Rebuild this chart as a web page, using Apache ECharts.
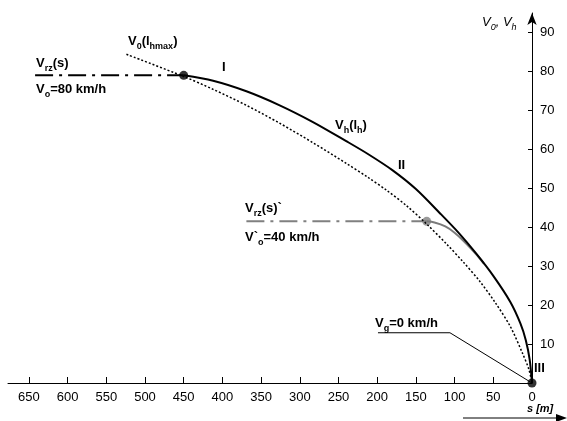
<!DOCTYPE html>
<html>
<head>
<meta charset="utf-8">
<script src="https://cdn.jsdelivr.net/npm/echarts@6/dist/echarts.min.js"></script>
<style>
  html, body { margin: 0; padding: 0; background: #fff; }
  #chart-container { width: 567px; height: 421px; }
</style>
</head>
<body>
<div id="chart-container"></div>
<script>
var dom = document.getElementById("chart-container");
var myChart = echarts.init(dom, null, { renderer: "canvas" });

// tick values
const xTicks = [0, 50, 100, 150, 200, 250, 300, 350, 400, 450, 500, 550, 600, 650];
const yTicks = [10, 20, 30, 40, 50, 60, 70, 80, 90];

// V_h(l_h) - solid curve
const vhS = [450, 412, 369, 326, 283, 240, 212, 180, 150, 119, 95, 72, 50, 28, 15, 8, 3, 0];
const vhV = [79, 77.6, 74.9, 71.3, 67, 62.1, 58.8, 54.6, 49.8, 43.6, 38.6, 33.2, 27.5, 20.8, 15.3, 11, 6, 0];

// V_0(l_hmax) - dotted curve
const v0S = [524, 450, 412, 369, 326, 283, 240, 212, 188, 162, 136, 110, 89, 67, 47, 28, 12, 4, 0];
const v0V = [84.4, 78.7, 75.4, 71.3, 66.7, 61.7, 56.4, 52.8, 49.5, 45.5, 40.8, 35.6, 31.1, 26, 20.5, 14.5, 7.5, 3.5, 0];

// grey braking curve from V`o = 40 km/h
const greyS = [136, 126, 112, 100, 88, 78, 68, 62];
const greyV = [41.5, 41.2, 40.2, 38.6, 36.4, 34.3, 32.1, 30.6];

// V_rz(s) dash-dot lines
const rzS = [642, 450];
const rzV = [79, 79];
const rz2S = [369, 136];
const rz2V = [41.5, 41.5];

// leader for V_g label
const vgS = [199, 106, 0];
const vgV = [12.9, 12.9, 0];

// points
const dotS = [450, 0];
const dotV = [79, 0];
const greyDotS = [136];
const greyDotV = [41.5];

const pair = (xs, ys) => xs.map((x, i) => [x, ys[i]]);

const FONT = "Liberation Sans, Arial, sans-serif";
const rich = {
  b: { fontSize: 13, fontWeight: "bold", fontFamily: FONT, color: "#000", lineHeight: 16, verticalAlign: "bottom" },
  s: { fontSize: 9, fontWeight: "bold", fontFamily: FONT, color: "#000", lineHeight: 12, verticalAlign: "bottom", padding: [0, 0, -3, 0] },
  i: { fontSize: 13, fontStyle: "italic", fontFamily: FONT, color: "#000", lineHeight: 16, verticalAlign: "bottom" },
  is: { fontSize: 9, fontStyle: "italic", fontFamily: FONT, color: "#000", lineHeight: 12, verticalAlign: "bottom", padding: [0, 0, -3, 0] },
};

function txt(x, y, t) {
  return { type: "text", left: x, top: y, style: { text: t, rich: rich, font: "bold 13px " + FONT, fill: "#000" } };
}

const option = {
  animation: false,
  backgroundColor: "#fff",
  grid: { left: 8, right: 35, top: 13, bottom: 38 },
  xAxis: {
    type: "value",
    inverse: true,
    min: 0,
    max: 677,
    splitLine: { show: false },
    axisLine: { show: true, lineStyle: { color: "#000", width: 1 } },
    axisTick: { show: true, inside: true, length: 6, customValues: xTicks, lineStyle: { color: "#000" } },
    axisLabel: { customValues: xTicks, margin: 8, color: "#000", fontSize: 13, fontFamily: FONT },
  },
  yAxis: {
    type: "value",
    position: "right",
    min: 0,
    max: 95,
    splitLine: { show: false },
    axisLine: { show: true, symbol: ["none", "arrow"], symbolSize: [7, 12], lineStyle: { color: "#000", width: 1 } },
    axisTick: { show: true, inside: true, length: 4, customValues: yTicks, lineStyle: { color: "#000" } },
    axisLabel: { customValues: yTicks, margin: 8, color: "#000", fontSize: 13, fontFamily: FONT },
  },
  series: [
    {
      type: "line", data: pair(rzS, rzV), symbol: "none",
      lineStyle: { color: "#000", width: 2, type: [18, 6, 3, 6] },
    },
    {
      type: "line", data: pair(rz2S, rz2V), symbol: "none",
      lineStyle: { color: "#808080", width: 2, type: [18, 6, 3, 6] },
    },
    {
      type: "line", data: pair(v0S, v0V), symbol: "none", smooth: 0.3,
      lineStyle: { color: "#000", width: 1.5, type: [2, 2] },
    },
    {
      type: "line", data: pair(greyS, greyV), symbol: "none", smooth: 0.3,
      lineStyle: { color: "#7a7a7a", width: 2 },
    },
    {
      type: "line", data: pair(vhS, vhV), symbol: "none", smooth: 0.3,
      lineStyle: { color: "#000", width: 2 },
    },
    {
      type: "line", data: pair(vgS, vgV), symbol: "none",
      lineStyle: { color: "#000", width: 1 },
    },
    {
      type: "scatter", data: pair(greyDotS, greyDotV), symbolSize: 9,
      itemStyle: { color: "#808080" },
    },
    {
      type: "scatter", data: pair(dotS, dotV), symbolSize: 9,
      itemStyle: { color: "#000" },
    },
  ],
  graphic: [
    txt(128, 35, "{b|V}{s|0}{b|(l}{s|hmax}{b|)}"),
    txt(36, 57, "{b|V}{s|rz}{b|(s)}"),
    txt(36, 83, "{b|V}{s|o}{b|=80 km/h}"),
    txt(222, 61, "{b|I}"),
    txt(335, 119, "{b|V}{s|h}{b|(l}{s|h}{b|)}"),
    txt(398, 159, "{b|II}"),
    txt(245, 202, "{b|V}{s|rz}{b|(s)`}"),
    txt(245, 231, "{b|V`}{s|o}{b|=40 km/h}"),
    txt(375, 317, "{b|V}{s|g}{b|=0 km/h}"),
    txt(534, 362, "{b|III}"),
    { type: "text", left: 482, top: 16, style: { text: "{i|V}{is|0}{i|, V}{is|h}", rich: rich } },
    { type: "text", left: 527, top: 403, style: { text: "s [m]", font: "italic bold 11px " + FONT, fill: "#000" } },
    { type: "line", shape: { x1: 463, y1: 418, x2: 560, y2: 418 }, style: { stroke: "#000", lineWidth: 1 } },
    { type: "polygon", shape: { points: [[567, 418], [556, 414], [556, 422]] }, style: { fill: "#000" } },
  ],
};

myChart.setOption(option);
window.addEventListener("resize", myChart.resize);
</script>
</body>
</html>
